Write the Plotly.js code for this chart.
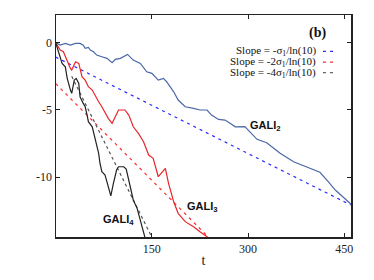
<!DOCTYPE html>
<html>
<head>
<meta charset="utf-8">
<script src="https://cdn.plot.ly/plotly-3.0.1.min.js"></script>
<style>html,body{margin:0;padding:0;background:#fff;}#chart{width:374px;height:280px;}</style>
</head>
<body>
<div id="chart"></div>
<script>
// GALI_2 (blue solid)
const gali2T = [0, 7, 15, 23, 31, 38, 43, 46, 51, 54, 59, 64, 72, 80, 88, 93, 101, 112, 121, 132, 142, 150, 160, 168, 173, 184, 191, 202, 215, 225, 236, 243, 254, 264, 272, 280, 295, 314, 329, 350, 371, 391, 412, 425, 436, 458, 462];
const gali2Y = [0, -0.19, -0.06, -0.19, -0.06, -0.06, -0.19, -0.43, -0.36, -0.56, -0.68, -0.93, -1.05, -1.17, -1.50, -1.25, -1.17, -0.88, -1.30, -1.55, -2.17, -2.29, -2.79, -2.66, -2.91, -3.66, -4.27, -4.77, -4.89, -5.01, -5.01, -5.39, -5.71, -5.76, -6.00, -6.26, -6.24, -7.19, -7.44, -8.23, -8.86, -9.23, -9.64, -10.34, -10.96, -11.90, -12.1];
// GALI_3 (red solid)
const gali3T = [0, 7, 12, 18, 23, 25, 31, 36, 41, 46, 51, 57, 62, 67, 72, 77, 82, 88, 93, 98, 108, 114, 121, 129, 137, 145, 152, 160, 171, 176, 184, 191, 202, 215, 225, 236, 242];
const gali3Y = [0, -0.56, -0.68, -1.43, -1.92, -2.04, -1.43, -1.55, -2.54, -2.79, -3.28, -3.53, -4.03, -4.40, -4.77, -5.26, -5.63, -6.00, -5.51, -5.01, -5.01, -5.39, -6.26, -6.75, -7.37, -8.36, -8.60, -9.97, -9.35, -10.46, -11.83, -12.69, -13.31, -13.69, -14.06, -14.43, -14.8];
// GALI_4 (black solid)
const gali4T = [0, 7, 10, 15, 18, 23, 25, 29, 32, 36, 38, 43, 46, 49, 51, 57, 59, 62, 64, 67, 69, 72, 77, 82, 86, 90, 95, 98, 106, 110, 116, 121, 127, 132, 138, 141];
const gali4Y = [0, -1.05, -1.55, -1.80, -2.66, -3.53, -3.77, -2.79, -2.66, -3.03, -4.03, -4.52, -4.77, -5.39, -5.88, -6.26, -6.63, -7.24, -7.62, -8.23, -8.95, -9.60, -9.84, -10.83, -11.40, -10.46, -9.47, -9.23, -9.23, -9.40, -10.71, -11.70, -12.32, -13.19, -14.43, -14.8];
// Reference slopes (end points)
const slope1T = [0, 460];
const slope1Y = [-1.08, -12.07];
const slope2T = [0, 240];
const slope2Y = [-3.05, -14.55];
const slope4T = [25, 152];
const slope4Y = [-2.51, -14.66];

const xTickVals = [150, 300, 450];
const xTickText = ['150', '300', '450'];
const yTickVals = [0, -5, -10];
const yTickText = ['0', '-5', '-10'];

const legendTexts = ['Slope = -σ<sub>1</sub>/ln(10)', 'Slope = -2σ<sub>1</sub>/ln(10)', 'Slope = -4σ<sub>1</sub>/ln(10)'];
const legendColors = ['#2a2aff', '#ff2a2a', '#666666'];

const traces = [
  {x: slope1T, y: slope1Y, mode: 'lines', line: {color: '#2a2aff', width: 1.2, dash: '3px,4px'}, hoverinfo: 'skip'},
  {x: slope2T, y: slope2Y, mode: 'lines', line: {color: '#ff2a2a', width: 1.2, dash: '3px,4px'}, hoverinfo: 'skip'},
  {x: slope4T, y: slope4Y, mode: 'lines', line: {color: '#555555', width: 1.2, dash: '3px,3px'}, hoverinfo: 'skip'},
  {x: gali2T, y: gali2Y, mode: 'lines', line: {color: '#4a68a6', width: 1.2}},
  {x: gali3T, y: gali3Y, mode: 'lines', line: {color: '#e8262a', width: 1.2}},
  {x: gali4T, y: gali4Y, mode: 'lines', line: {color: '#222222', width: 1.2}}
];

const serif = 'Liberation Serif, Times New Roman, serif';
const sans = 'Liberation Sans, Arial, sans-serif';

const annotations = [
  {xref: 'paper', yref: 'paper', x: 0.888, y: 0.919, text: '<b>(b)</b>', showarrow: false, xanchor: 'center', yanchor: 'middle', font: {family: serif, size: 14, color: '#111'}},
  {xref: 'x', yref: 'y', x: 300, y: -6.2, text: '<b>GALI<sub>2</sub></b>', showarrow: false, xanchor: 'left', yanchor: 'middle', font: {family: sans, size: 11, color: '#111'}},
  {xref: 'x', yref: 'y', x: 202, y: -12.2, text: '<b>GALI<sub>3</sub></b>', showarrow: false, xanchor: 'left', yanchor: 'middle', font: {family: sans, size: 11, color: '#111'}},
  {xref: 'x', yref: 'y', x: 71, y: -13.2, text: '<b>GALI<sub>4</sub></b>', showarrow: false, xanchor: 'left', yanchor: 'middle', font: {family: sans, size: 11, color: '#111'}}
];
const shapes = [];
const legendY = [0.836, 0.788, 0.740];
legendTexts.forEach((t, i) => {
  annotations.push({xref: 'paper', yref: 'paper', x: 0.885, y: legendY[i], text: t, showarrow: false, xanchor: 'right', yanchor: 'middle', borderpad: 0, font: {family: serif, size: 11, color: '#111'}});
  shapes.push({type: 'line', xref: 'paper', yref: 'paper', x0: 0.905, x1: 0.95, y0: legendY[i], y1: legendY[i], line: {color: legendColors[i], width: 1.2, dash: '3px,4px'}});
});

const layout = {
  width: 374, height: 280,
  margin: {l: 56, r: 23, t: 15, b: 43},
  paper_bgcolor: '#fff', plot_bgcolor: '#fff',
  showlegend: false,
  xaxis: {
    range: [0.5, 460.5], showgrid: false, zeroline: false,
    showline: true, mirror: 'ticks', linecolor: '#222', linewidth: 1.5,
    ticks: 'inside', ticklen: 4, tickcolor: '#222', tickwidth: 1,
    tickmode: 'array', tickvals: xTickVals, ticktext: xTickText,
    tickfont: {family: serif, size: 12, color: '#222'},
    title: {text: 't', font: {family: serif, size: 14, color: '#222'}, standoff: 0}
  },
  yaxis: {
    range: [-14.45, 2.05], showgrid: false, zeroline: false,
    showline: true, mirror: 'ticks', linecolor: '#222', linewidth: 1.5,
    ticks: 'inside', ticklen: 4, tickcolor: '#222', tickwidth: 1,
    tickmode: 'array', tickvals: yTickVals, ticktext: yTickText,
    tickfont: {family: serif, size: 12, color: '#222'}
  },
  annotations: annotations,
  shapes: shapes
};

Plotly.newPlot('chart', traces, layout, {displayModeBar: false, staticPlot: true});
</script>
</body>
</html>
